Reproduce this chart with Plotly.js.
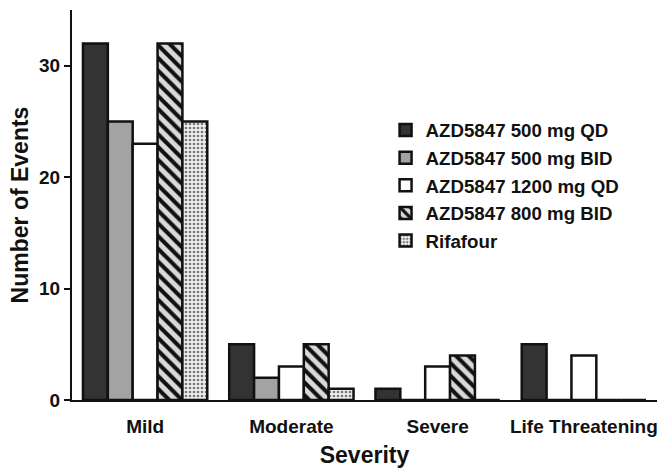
<!DOCTYPE html>
<html><head><meta charset="utf-8">
<script src="https://cdn.plot.ly/plotly-3.0.1.min.js"></script>
<style>body{margin:0;background:#fff}#c{width:667px;height:468px}</style>
</head><body><div id="c"></div>
<script>
const categories = ["Mild", "Moderate", "Severe", "Life Threatening"];
const seriesNames = ["AZD5847 500 mg QD", "AZD5847 500 mg BID", "AZD5847 1200 mg QD", "AZD5847 800 mg BID", "Rifafour"];
const qd500 = [32, 5, 1, 5];
const bid500 = [25, 2, 0, 0];
const qd1200 = [23, 3, 3, 4];
const bid800 = [32, 5, 4, 0];
const rifafour = [25, 1, 0, 0];
const yTicks = [0, 10, 20, 30];

const values = [qd500, bid500, qd1200, bid800, rifafour];
const styles = [
  {color: "#333333"},
  {color: "#a3a3a3"},
  {color: "#ffffff"},
  {color: "#d9d9d9", pattern: {shape: "\\", fgcolor: "#111111", bgcolor: "#d9d9d9", size: 9, solidity: 0.45}},
  {color: "#eeeeee", pattern: {shape: ".", fgcolor: "#777777", bgcolor: "#eeeeee", size: 4, solidity: 0.35}}
];
const font = {family: "Liberation Sans, Arial, sans-serif", color: "#111", weight: "bold"};
const traces = values.map((v, i) => ({
  type: "bar", x: categories, y: v, name: seriesNames[i], legendgroup: "g" + i,
  marker: Object.assign({line: {color: "#111", width: 2.5}}, styles[i])
}));
const layout = {
  width: 667, height: 468,
  margin: {l: 72, r: 10, t: 10, b: 68},
  paper_bgcolor: "#fff", plot_bgcolor: "#fff",
  barmode: "group", bargap: 0.15, bargroupgap: 0,
  showlegend: true,
  legend: {x: 0.536, y: 0.74, xanchor: "left", yanchor: "top", tracegroupgap: 0.3,
    font: Object.assign({size: 18.7}, font), bgcolor: "rgba(0,0,0,0)"},
  xaxis: {range: [-0.5, 3.5], showline: true, linecolor: "#111", linewidth: 2, ticks: "",
    ticklabelstandoff: 8,
    tickfont: Object.assign({size: 19}, font), showgrid: false, zeroline: false,
    title: {text: "Severity", font: Object.assign({size: 23}, font), standoff: 14}},
  yaxis: {range: [0, 35], showline: true, linecolor: "#111", linewidth: 2, ticks: "outside",
    ticklen: 6, tickwidth: 2, tickcolor: "#111", tickvals: yTicks,
    tickfont: Object.assign({size: 19}, font), showgrid: false, zeroline: false,
    title: {text: "Number of Events", font: Object.assign({size: 23}, font), standoff: 4}}
};
Plotly.newPlot("c", traces, layout, {displayModeBar: false});
</script></body></html>
